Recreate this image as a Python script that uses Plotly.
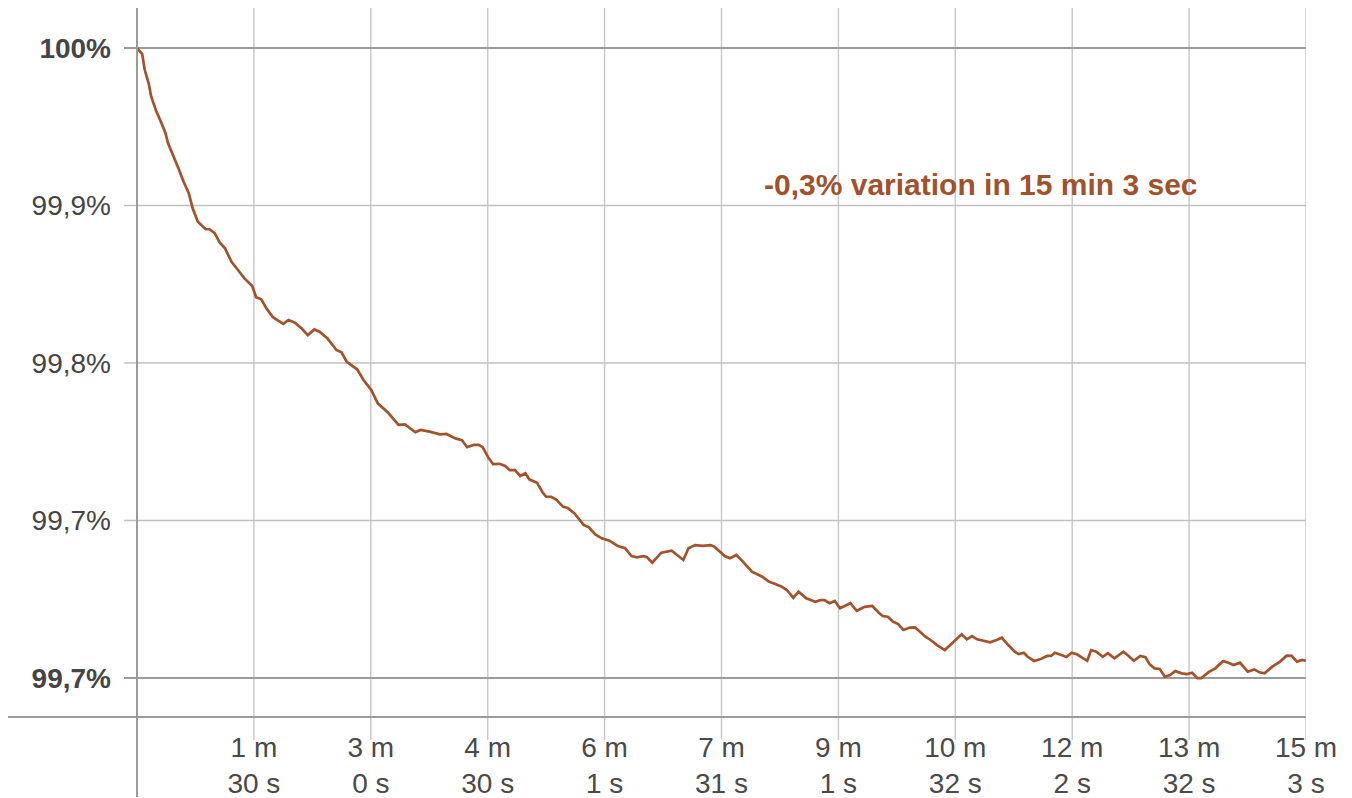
import plotly.graph_objects as go

# time in seconds since start
t_sec = [0, 4, 6, 9, 11, 15, 19, 22, 24, 28, 32, 36, 40, 43, 47, 53, 56, 60, 64, 68,
         73, 78, 83, 89, 92, 96, 100, 105, 113, 117, 122, 127, 132, 137, 141, 147,
         149, 154, 158, 162, 170, 175, 181, 186, 194, 202, 207, 215, 219, 226, 234, 239,
         246, 251, 255, 260, 264, 267, 271, 275, 280, 284, 288, 292, 296, 300, 303,
         309, 313, 316, 320, 324, 329, 333, 338, 345, 349, 354, 359, 365, 371, 377, 382,
         386, 391, 394, 398, 405, 413, 422, 426, 431, 437, 443, 446,
         450, 454, 458, 463, 468, 475, 483, 488, 493, 498, 502, 507, 511, 517, 524, 528,
         531, 535, 539, 543, 551, 556, 562, 568, 573, 576, 580, 584, 588, 592, 597, 601, 604,
         609, 613, 618, 624, 631, 637, 641, 645, 649, 654, 659, 664, 668, 673, 678, 681,
         685, 688, 693, 698, 703, 706, 709, 714, 718, 722, 726, 730, 734, 737, 741, 746, 750, 755,
         762, 766, 770, 775, 779, 782, 786, 790, 794, 798, 802, 807, 811, 815, 819, 822,
         828, 833, 839, 843, 847, 852, 858, 863, 867, 871, 877, 883, 888, 892, 896, 900, 903]

# relative value in percent
value_pct = [100.0, 99.9971, 99.9895, 99.9832, 99.9768, 99.9697, 99.9641, 99.9594, 99.9546, 99.9490,
             99.9427, 99.9363, 99.9308, 99.9237, 99.9173, 99.9137, 99.9137, 99.9118, 99.9073, 99.9046,
             99.8982, 99.8943, 99.8903, 99.8867, 99.8813, 99.8803, 99.8760, 99.8718, 99.8686, 99.8705,
             99.8692, 99.8665, 99.8633, 99.8660, 99.8649, 99.8618,
             99.8601, 99.8562, 99.8551, 99.8506, 99.8470, 99.8419, 99.8371, 99.8308, 99.8263, 99.8205,
             99.8208, 99.8170, 99.8181, 99.8173, 99.8160, 99.8162, 99.8141, 99.8133, 99.8099, 99.8110,
             99.8110, 99.8099, 99.8054, 99.8018, 99.8020, 99.8011, 99.7990, 99.7990, 99.7962, 99.7975,
             99.7946,
             99.7930, 99.7887, 99.7863, 99.7863, 99.7848, 99.7816, 99.7808, 99.7784, 99.7729, 99.7718,
             99.7684, 99.7665, 99.7654, 99.7630, 99.7618, 99.7581, 99.7575, 99.7580, 99.7575, 99.7549,
             99.7597, 99.7606, 99.7562, 99.7618, 99.7633, 99.7629, 99.7633, 99.7625,
             99.7605, 99.7581, 99.7570, 99.7586, 99.7554, 99.7506, 99.7482, 99.7459, 99.7448, 99.7435,
             99.7419, 99.7382, 99.7411, 99.7380, 99.7363, 99.7371, 99.7371, 99.7356, 99.7367, 99.7332,
             99.7356, 99.7320, 99.7339, 99.7343, 99.7311, 99.7295, 99.7292, 99.7268, 99.7257, 99.7229,
             99.7240, 99.7241, 99.7225,
             99.7197, 99.7181, 99.7157, 99.7133, 99.7173, 99.7208, 99.7184, 99.7200, 99.7184, 99.7178,
             99.7170, 99.7181, 99.7192, 99.7157, 99.7125, 99.7114, 99.7120, 99.7101, 99.7081, 99.7090,
             99.7105, 99.7105, 99.7120, 99.7110, 99.7100, 99.7120, 99.7113, 99.7097, 99.7082, 99.7133,
             99.7125, 99.7101, 99.7118, 99.7094,
             99.7125, 99.7105, 99.7082, 99.7105, 99.7099, 99.7067, 99.7046, 99.7043, 99.7006, 99.7014,
             99.7033, 99.7022, 99.7019, 99.7025, 99.6999, 99.6999, 99.7029, 99.7046, 99.7081, 99.7073,
             99.7062, 99.7073, 99.7030, 99.7041, 99.7027, 99.7022, 99.7054, 99.7078, 99.7106, 99.7105,
             99.7078, 99.7086, 99.7082]

x_tick_vals = [90.3, 180.6, 270.9, 361.2, 451.5, 541.8, 632.1, 722.4, 812.7, 903]
x_tick_text = ["1 m<br>30 s", "3 m<br>0 s", "4 m<br>30 s", "6 m<br>1 s", "7 m<br>31 s",
               "9 m<br>1 s", "10 m<br>32 s", "12 m<br>2 s", "13 m<br>32 s", "15 m<br>3 s"]
y_tick_vals = [100.0, 99.925, 99.85, 99.775, 99.7]
y_tick_text = ["<b>100%</b>", "99,9%", "99,8%", "99,7%", "<b>99,7%</b>"]
annotation_text = "-0,3% variation in 15 min 3 sec"

LINE_COLOR = "#a3522c"
FONT = "Liberation Sans, Arial, sans-serif"

fig = go.Figure()
fig.add_trace(go.Scatter(x=t_sec, y=value_pct, mode="lines",
                         line=dict(color=LINE_COLOR, width=2.7), hoverinfo="skip",
                         showlegend=False))

W, H = 1352, 798
ml, mt = 129, 0
pw, ph = 1169, 709
mr, mb = W - ml - pw, H - mt - ph

y_lo = 100 - (717 - 48) / 2100
y_hi = 100 + 40 / 2100

shapes = []
# vertical gridlines (extend below the axis)
for v in x_tick_vals:
    shapes.append(dict(type="line", xref="x", yref="paper", x0=v, x1=v, y0=-23 / ph, y1=1,
                       line=dict(color="#cacaca", width=1.5), layer="below"))
# horizontal gridlines (extend left of the axis)
for i, v in enumerate(y_tick_vals):
    strong = i in (0, len(y_tick_vals) - 1)
    shapes.append(dict(type="line", xref="paper", yref="y", x0=-13 / pw, x1=1, y0=v, y1=v,
                       line=dict(color="#9b9b9b" if strong else "#c0c0c0", width=2 if strong else 1.5),
                       layer="below"))
# x axis line extended left
shapes.append(dict(type="line", xref="paper", yref="paper", x0=-130 / pw, x1=1, y0=0, y1=0,
                   line=dict(color="#9b9b9b", width=2), layer="above"))
# y axis line extended down
shapes.append(dict(type="line", xref="paper", yref="paper", x0=0, x1=0, y0=-80 / ph, y1=1,
                   line=dict(color="#9b9b9b", width=2), layer="above"))

fig.update_layout(
    width=W, height=H,
    margin=dict(l=ml, r=mr, t=mt, b=mb, pad=0, autoexpand=False),
    plot_bgcolor="white", paper_bgcolor="white",
    font=dict(family=FONT, size=28, color="#454545"),
    xaxis=dict(range=[0, 903], tickvals=x_tick_vals, ticktext=x_tick_text,
               showgrid=False, ticks="", zeroline=False, showline=False,
               tickfont=dict(size=28, color="#4a4a4a"), automargin=False,
               ticklabelstandoff=11, fixedrange=True),
    yaxis=dict(range=[y_lo, y_hi], tickvals=y_tick_vals, ticktext=y_tick_text,
               showgrid=False, zeroline=False, showline=False, ticks="", automargin=False,
               tickfont=dict(size=28, color="#454545"), ticklabelstandoff=25, fixedrange=True),
    shapes=shapes,
    annotations=[dict(text="<b>" + annotation_text + "</b>", xref="paper", yref="paper",
                      x=(973.5 - ml) / pw, y=(709 - 177) / ph, showarrow=False,
                      font=dict(family=FONT, size=30, color="#a0522d"),
                      xanchor="center", yanchor="middle")],
)

fig.write_html("out.html")
